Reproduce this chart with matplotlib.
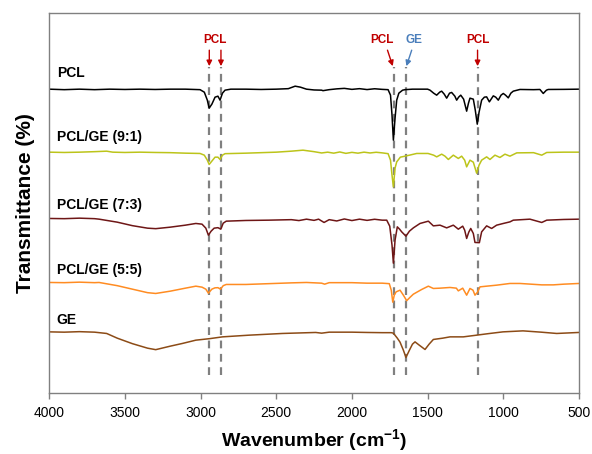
# -*- coding: utf-8 -*-
# %% FTIR spectra of PCL, GE and their blends (stacked, offset transmittance)
import matplotlib
matplotlib.use('Agg')
import matplotlib.pyplot as plt

plt.rcParams['font.family'] = ['Liberation Sans', 'DejaVu Sans']
plt.rcParams['mathtext.fontset'] = 'custom'
plt.rcParams['mathtext.rm'] = 'Liberation Sans'
plt.rcParams['mathtext.bf'] = 'Liberation Sans:bold'

# ---- data (wavenumber in cm-1, offset transmittance in a.u.) ----
pcl_wn = [4000, 3900, 3800, 3700, 3600, 3500, 3400, 3300, 3200, 3100,
          3003, 2975, 2955, 2943, 2925, 2904, 2885, 2871, 2855, 2838,
          2800, 2700, 2600, 2500, 2420, 2375, 2340,
          2300, 2250, 2200, 2191, 2150, 2100, 2050, 2000, 1950, 1900, 1850, 1800,
          1761, 1745, 1735, 1726,
          1715, 1704, 1690, 1665, 1649, 1600, 1500, 1484, 1460, 1440,
          1420, 1407, 1390, 1374, 1355, 1341, 1320, 1308, 1295, 1281,
          1262, 1242, 1230, 1220, 1198, 1185, 1172, 1160, 1143, 1125,
          1110, 1092, 1066, 1050, 1033, 1015, 1000, 985, 967, 950,
          934, 890, 800, 758, 736, 715, 703, 600, 500]
pcl_t = [304, 303.5, 304, 303.5, 304, 303.7, 304, 303.7, 304, 304,
         303.5, 301, 293, 285, 289, 296, 297, 293, 300, 303,
         304, 304, 303.7, 304, 304.5, 307, 306,
         304, 303.2, 303, 302.5, 303.5, 304.3, 304.8, 303.8, 304.5, 303.6, 304.4, 303.8,
         303.5, 298, 278, 253,
         275, 293, 300, 303, 303.5, 304, 304, 303, 300, 298,
         301, 302, 299, 295, 300, 300.7, 297, 293, 296, 298,
         294, 282, 290, 295, 294, 283, 269, 281, 293, 296,
         296.3, 291.3, 297.3, 296, 293, 298, 299.7, 298, 295.3, 300,
         302, 303.7, 303.5, 303.7, 299.7, 303, 303.7, 303.8, 304]

g91_wn = [4000, 3900, 3800, 3700, 3620, 3580, 3500, 3400, 3300, 3200,
          3100, 3003, 2975, 2955, 2943, 2920, 2904, 2885, 2871, 2855,
          2838, 2700, 2600, 2500, 2400, 2323,
          2250, 2200, 2160, 2120, 2080, 2040, 2000, 1960, 1920, 1880, 1840, 1800,
          1761, 1745, 1735, 1726, 1715, 1704, 1680,
          1649, 1620, 1572, 1497, 1460, 1440, 1407, 1385, 1363, 1330,
          1297, 1275, 1255, 1242, 1220, 1198, 1176, 1160, 1143, 1110,
          1088, 1055, 1022, 989, 956, 911, 800, 746, 713, 600, 500]
g91_t = [241, 240.7, 241, 241.5, 242, 241, 240.7, 241, 240.7, 240.5,
         240, 239.7, 238, 233, 228.7, 233, 236, 236, 233.7, 238,
         239.5, 240, 240.5, 241, 242, 243,
         241.5, 240.2, 241, 240, 241.2, 239.8, 240.8, 240, 241, 240.2, 240.9, 240.3,
         239.5, 233, 218, 206.3, 225, 231.3, 236,
         237, 238, 239.7, 239.7, 238, 236.3, 239, 237, 233.7, 238,
         234.7, 237, 233, 226.3, 233, 231, 220, 228, 233, 236.3,
         233.7, 238, 235.7, 239, 237, 240.3, 240.5, 238, 240.7, 241, 241]

g73_wn = [4000, 3900, 3800, 3700, 3670, 3550, 3450, 3350, 3296,
          3200, 3100, 3031, 2990, 2965, 2948, 2930, 2910, 2885, 2866,
          2850, 2830, 2700, 2550,
          2400, 2350, 2300, 2250, 2220, 2184, 2150, 2100, 2050, 2000, 1950, 1900, 1850, 1800,
          1770, 1750, 1735, 1726, 1715, 1700, 1685,
          1671, 1643, 1620, 1594, 1550, 1495, 1462, 1418, 1374, 1330,
          1297, 1268, 1255, 1242, 1228, 1215, 1198, 1187, 1158, 1143,
          1110, 1077, 1044, 1000, 956, 934, 824, 746, 713, 600, 500]
g73_t = [174.7, 174.5, 175, 174.5, 174, 171, 167.5, 165, 164.5,
         166, 168, 169.7, 169, 165, 158, 162, 165, 165.5, 164,
         170, 172, 172.7, 173,
         173.5, 172.6, 174, 172.8, 174, 170.7, 173.5, 172.2, 174.2, 172.6, 174, 172.8, 173.9, 173,
         173, 167, 148, 130, 153, 166.3, 164,
         161.3, 157, 162, 165.3, 169.7, 172, 167.3, 168, 165.3, 168,
         164, 167, 163, 154.7, 161, 164.7, 159.7, 150.7, 150.5, 161.3,
         167.3, 164.7, 168, 169.7, 171.3, 173, 174, 170.7, 173, 173.7, 174]

g55_wn = [4000, 3900, 3800, 3700, 3670, 3550, 3450, 3350, 3296, 3200,
          3100, 3031, 2990, 2965, 2948, 2925, 2905, 2885, 2868, 2850,
          2830, 2700, 2550, 2400, 2300, 2200, 2180, 2150, 2000, 1900,
          1800, 1753, 1740, 1730, 1720, 1708, 1682, 1660, 1638, 1615,
          1594, 1539, 1495, 1462, 1418, 1352, 1310, 1297, 1268, 1242,
          1220, 1200, 1187, 1170, 1154, 1110, 1044, 956, 890, 746,
          670, 600, 500]
g55_t = [110.7, 110.5, 111, 110.5, 110.7, 107.5, 104, 100.5, 99.7, 102,
         105, 107, 106, 104, 100, 104, 105.3, 105.5, 104, 107.5,
         108.7, 108.7, 109.5, 110.3, 110.7, 110, 109, 110.5, 110.5, 110,
         110, 109.5, 103, 91, 98, 101.3, 103, 98, 92.5, 96,
         99, 103.7, 107, 104.7, 105, 105.7, 105, 102.3, 105, 98,
         104.7, 103, 98, 101, 106.3, 107, 108, 109.7, 109.7, 108.3,
         108.3, 109, 109.7]

ge_wn = [4000, 3900, 3800, 3700, 3620, 3550, 3450, 3350, 3296, 3200,
         3120, 3031, 2940, 2855, 2679, 2459, 2239, 2200, 2150, 2000,
         1900, 1800, 1740, 1726, 1700, 1682, 1660, 1643, 1620, 1600,
         1583, 1555, 1517, 1490, 1462, 1400, 1352, 1264, 1176, 1100,
         1002, 870, 750, 647, 502]
ge_t = [61.3, 61, 61.5, 61, 59.7, 55, 49.5, 45, 43.5, 47,
        49.7, 53, 54.5, 56.3, 58, 59.7, 60.7, 60, 61, 61,
        60.7, 60.5, 60.5, 60, 55, 51, 43, 35.7, 43, 49,
        51.3, 48, 43.7, 49, 53.7, 55, 56.3, 56.3, 58, 59.5,
        61.3, 62.3, 61, 59.7, 60.7]

series_names = ['PCL', 'PCL/GE (9:1)', 'PCL/GE (7:3)', 'PCL/GE (5:5)', 'GE']
series_wn = [pcl_wn, g91_wn, g73_wn, g55_wn, ge_wn]
series_t = [pcl_t, g91_t, g73_t, g55_t, ge_t]
series_colors = ['black', '#bcc41a', '#6e1616', '#ff8c22', '#8c4b16']
label_t = [320, 256, 188, 123, 73]

# marked bands (cm-1)
band_wn = [2942, 2865, 1724, 1640, 1170]

# %% Plotting
fig = plt.figure(figsize=(5.92, 4.54), dpi=100)
ax = fig.add_axes([0.083, 0.134, 0.895, 0.837])

for wn, t, c in zip(series_wn, series_t, series_colors):
    ax.plot(wn, t, color=c, lw=1.1)

for name, ty in zip(series_names, label_t):
    ax.text(3950, ty, name, fontsize=10, fontweight='bold', ha='left', va='center')

ax.vlines(band_wn, 18, 326, colors='#808080', linestyles=(0, (3.5, 2.5)), lw=1.6, zorder=0)

# peak assignments
red = '#c00000'
blue = '#4a7ebb'
ax.text(2904, 353, 'PCL', color=red, fontsize=8.5, fontweight='bold', ha='center', va='center')
ax.text(1803, 353, 'PCL', color=red, fontsize=8.5, fontweight='bold', ha='center', va='center')
ax.text(1590, 353, 'GE', color=blue, fontsize=8.5, fontweight='bold', ha='center', va='center')
ax.text(1169, 353, 'PCL', color=red, fontsize=8.5, fontweight='bold', ha='center', va='center')
arr_red = dict(arrowstyle='-|>', color=red, lw=1.0, mutation_scale=8, shrinkA=0, shrinkB=0)
arr_blue = dict(arrowstyle='-|>', color=blue, lw=1.0, mutation_scale=8, shrinkA=0, shrinkB=0)
ax.annotate('', xy=(2942, 327), xytext=(2942, 343), arrowprops=arr_red)
ax.annotate('', xy=(2865, 327), xytext=(2865, 343), arrowprops=arr_red)
ax.annotate('', xy=(1730, 327), xytext=(1765, 343), arrowprops=arr_red)
ax.annotate('', xy=(1640, 327), xytext=(1605, 343), arrowprops=arr_blue)
ax.annotate('', xy=(1170, 327), xytext=(1170, 343), arrowprops=arr_red)

ax.set_xlim(4000, 500)
ax.set_ylim(0, 380)
ax.set_xticks([4000, 3500, 3000, 2500, 2000, 1500, 1000, 500])
ax.set_yticks([])
ax.tick_params(axis='x', direction='out', length=4, width=1, color='#808080',
               labelsize=10, pad=5)
for s in ax.spines.values():
    s.set_color('#808080')
    s.set_linewidth(1.0)

ax.set_xlabel(r'Wavenumber (cm$\mathbf{^{-1}}$)', fontsize=14, fontweight='bold', labelpad=5)
ax.set_ylabel('Transmittance (%)', fontsize=15, fontweight='bold', labelpad=10)

plt.savefig('out.png', dpi=100)
plt.close('all')
